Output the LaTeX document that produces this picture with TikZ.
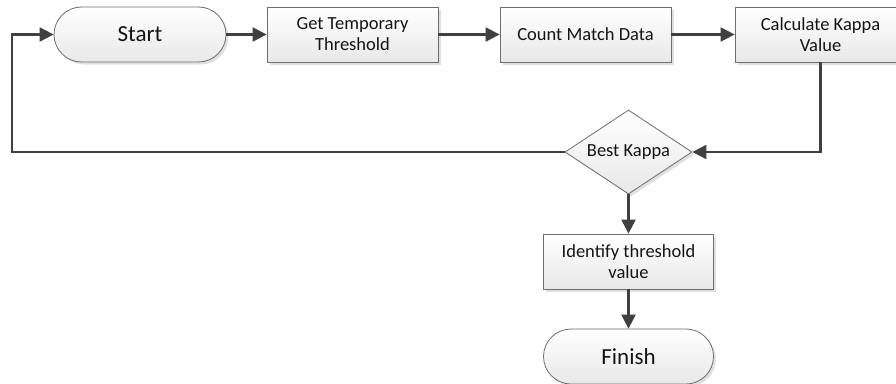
\documentclass[tikz,border=0pt]{standalone}
\usepackage{fontspec}
\setmainfont{Carlito}
\usetikzlibrary{arrows.meta,shapes.misc,shapes.geometric,shadows,positioning}
\definecolor{conncol}{RGB}{64,64,64}
\definecolor{bordcol}{RGB}{110,110,110}
\definecolor{txtcol}{RGB}{20,20,20}
\tikzset{
  boxbase/.style={draw=bordcol, line width=0.8pt, top color=white, bottom color=black!9,
    text=txtcol, inner sep=0pt, align=center,
    drop shadow={shadow xshift=2.5pt, shadow yshift=-2.5pt, fill=black, opacity=0.12}},
  procbox/.style={boxbase, rectangle, minimum width=171pt, minimum height=55pt,
    font=\fontsize{18.5}{21}\selectfont},
  termbox/.style={boxbase, rounded rectangle, minimum width=172pt, minimum height=55pt,
    font=\fontsize{23}{27}\selectfont},
  decbox/.style={boxbase, diamond, shape aspect=1.5, minimum width=127pt, minimum height=84pt,
    font=\fontsize{18.5}{21}\selectfont},
  conn/.style={draw=conncol, line width=2.2pt, -{Triangle[length=14pt,width=14pt]}}
}
\begin{document}
\begin{tikzpicture}[x=1pt,y=-1pt]
\fill[white] (0,0) rectangle (896,383);
\useasboundingbox (0,0) rectangle (896,383);
\node[termbox] (start) at (140,34.5) {Start};
\node[procbox] (temp) at (352.5,34.5) {Get Temporary\\Threshold};
\node[procbox] (count) at (585.5,34.5) {Count Match Data};
\node[procbox] (calc) at (820.5,34.5) {Calculate Kappa\\Value};
\node[decbox] (best) at (628.5,152) {Best Kappa};
\node[procbox, minimum width=170pt] (ident) at (628.5,261.5) {Identify threshold\\value};
\node[termbox, minimum width=170pt] (finish) at (628.5,356.5) {Finish};
\coordinate (lc) at (12,152);
\draw[conn] (start.east) -- (temp.west);
\draw[conn] (temp.east) -- (count.west);
\draw[conn] (count.east) -- (calc.west);
\draw[conn] (calc.south) |- (best.east);
\draw[conn] (best.west) -- (lc) |- (start.west);
\draw[conn] (best.south) -- (ident.north);
\draw[conn] (ident.south) -- (finish.north);
\end{tikzpicture}
\end{document}
